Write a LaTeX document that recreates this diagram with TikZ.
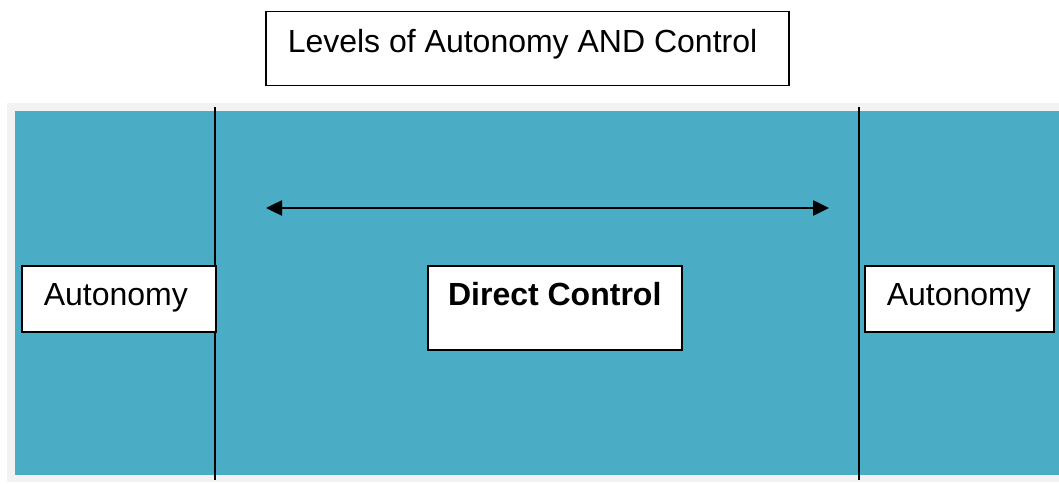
\documentclass[tikz,border=0pt]{standalone}
\usepackage{fontspec}
\setmainfont{Liberation Sans}
\usetikzlibrary{arrows.meta}
\definecolor{panelblue}{HTML}{4BACC6}
\definecolor{framegrey}{HTML}{F2F2F2}
\tikzset{
  txtbox/.style={draw=black, line width=1.5pt, fill=white, inner xsep=22pt, inner ysep=0pt,
    font=\fontsize{32}{38}\selectfont, anchor=north west},
  divider/.style={draw=black, line width=2pt},
  spanarrow/.style={draw=black, line width=2.5pt, {Triangle[length=16pt,width=15pt]}-{Triangle[length=16pt,width=15pt]}}
}
\begin{document}
\begin{tikzpicture}[x=1pt,y=-1pt]
\useasboundingbox (0,0) rectangle (1059,484);
% frame and panel
\fill[framegrey] (7,103) rectangle (1059,482);
\fill[panelblue] (15,111) rectangle (1059,475);
% dividers
\coordinate (d1t) at (215,107); \coordinate (d1b) at (215,480);
\coordinate (d2t) at (859,107); \coordinate (d2b) at (859,480);
\draw[divider] (d1t) -- (d1b);
\draw[divider] (d2t) -- (d2b);
% title
\node[txtbox, text height=41pt, text depth=33pt] (title) at (265,11) {\makebox[479pt][l]{Levels of Autonomy AND Control}};
% boxes
\node[txtbox, text height=40pt, text depth=26pt] (autL) at (21,265) {\makebox[150pt][l]{Autonomy}};
\node[txtbox, text height=40pt, text depth=44pt] (dc) at (427,265) {\makebox[210pt][c]{\bfseries Direct Control}};
\node[txtbox, text height=40pt, text depth=26pt] (autR) at (864,265) {\makebox[145pt][l]{Autonomy}};
% arrow
\coordinate (aL) at (266,208);
\coordinate (aR) at (829,208);
\draw[spanarrow] (aL) -- (aR);
\end{tikzpicture}
\end{document}
